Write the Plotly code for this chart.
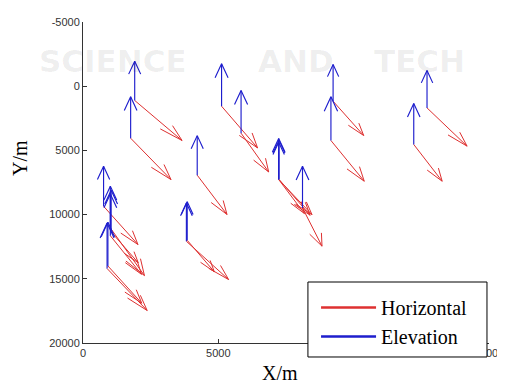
import plotly.graph_objects as go

# ---- data (metres) ----
# base point of every station (start of both vectors)
base_x = [1910, 1760, 5120, 5840, 4220, 760, 1010, 1040, 1010, 890, 920,
          3820, 3850, 7230, 7230, 7240, 8110, 9240, 9160, 12710, 12220]
base_y = [1110, 4050, 1560, 3660, 6930, 9350, 11040, 11350, 11650, 14200, 14000,
          12080, 12000, 7270, 7270, 7250, 9480, 1170, 4230, 1690, 4540]
# horizontal displacement vector (red)
horiz_u = [1750, 1490, 1330, 1020, 1100, 1270, 1260, 1000, 1150, 1480, 1250,
           1560, 1000, 1230, 950, 1150, 720, 1130, 1230, 1480, 1050]
horiz_v = [3120, 3220, 3250, 3020, 3060, 2980, 3710, 2400, 3000, 3270, 2900,
           2980, 2450, 2730, 2650, 2800, 2980, 2670, 3170, 2980, 2860]
# elevation vector (blue), drawn upward
elev_v = [-3060, -3230, -3310, -3330, -3080, -3120, -3250, -3250, -3250, -3550, -3400,
          -2980, -3000, -3200, -2900, -3050, -3250, -2860, -3410, -2910, -3190]
elev_u = [0] * len(elev_v)

x_ticks = [0, 5000, 10000, 15000]
y_ticks = [-5000, 0, 5000, 10000, 15000, 20000]

ALPHA, BETA = 0.33, 0.22  # MATLAB-like quiver head


def quiver_xy(xs, ys, us, vs):
    px, py = [], []
    for x, y, u, v in zip(xs, ys, us, vs):
        tx, ty = x + u, y + v
        b1x, b1y = tx - ALPHA * (u + BETA * v), ty - ALPHA * (v - BETA * u)
        b2x, b2y = tx - ALPHA * (u - BETA * v), ty - ALPHA * (v + BETA * u)
        px += [x, tx, None, b1x, tx, b2x, None]
        py += [y, ty, None, b1y, ty, b2y, None]
    return px, py


RED = "rgb(222,48,48)"
BLUE = "rgb(30,30,205)"

hx, hy = quiver_xy(base_x, base_y, horiz_u, horiz_v)
ex, ey = quiver_xy(base_x, base_y, elev_u, elev_v)

fig = go.Figure()
fig.add_trace(go.Scatter(x=hx, y=hy, mode="lines", line=dict(color=RED, width=1),
                         name="Horizontal", legendgroup="h", showlegend=False,
                         hoverinfo="skip"))
fig.add_trace(go.Scatter(x=ex, y=ey, mode="lines", line=dict(color=BLUE, width=1.15),
                         name="Elevation", legendgroup="e", showlegend=False,
                         hoverinfo="skip"))
# legend entries
fig.add_trace(go.Scatter(x=[None], y=[None], mode="lines", line=dict(color=RED, width=2.5),
                         name="Horizontal", legendgroup="h"))
fig.add_trace(go.Scatter(x=[None], y=[None], mode="lines", line=dict(color=BLUE, width=2.5),
                         name="Elevation", legendgroup="e"))

axis_common = dict(showline=True, linecolor="#333333", linewidth=1, ticks="inside",
                   ticklen=4, tickcolor="#333333", showgrid=False, zeroline=False,
                   automargin=False,
                   tickfont=dict(family="Liberation Sans, Arial", size=11, color="#333333"))

# the page body adds an 8px offset, so the figure is 8px smaller on each axis
fig.update_layout(
    width=497, height=375, autosize=False,
    margin=dict(l=75, r=16, t=14, b=40, autoexpand=False),
    paper_bgcolor="white", plot_bgcolor="white",
    xaxis=dict(range=[0, 15000], tickvals=x_ticks, ticktext=[str(v) for v in x_ticks],
               **axis_common),
    yaxis=dict(range=[20000, -5000], tickvals=y_ticks, ticktext=[str(v) for v in y_ticks],
               **axis_common),
    legend=dict(x=0.574, y=0.171, xanchor="left", yanchor="top",
                bgcolor="rgba(0,0,0,0)", borderwidth=0,
                font=dict(family="Liberation Serif, Times New Roman", size=20, color="black"),
                itemwidth=55, tracegroupgap=0),
    showlegend=True,
    # legend frame (white box that hides the axis behind it)
    shapes=[dict(type="rect", xref="paper", yref="paper", x0=0.554, x1=0.995,
                 y0=-0.0436, y1=0.19, line=dict(color="black", width=1),
                 fillcolor="white", layer="above")],
)

annotations = [
    dict(text="Y/m", x=-0.154, y=0.578, xref="paper", yref="paper", showarrow=False,
         xanchor="center", yanchor="middle", textangle=-90,
         font=dict(family="Liberation Serif, Times New Roman", size=20, color="black")),
    dict(text="X/m", x=0.486, y=-0.092, xref="paper", yref="paper", showarrow=False,
         xanchor="center", yanchor="middle",
         font=dict(family="Liberation Serif, Times New Roman", size=20, color="black")),
]
for word, wx in [("SCIENCE", 0.074), ("AND", 0.525), ("TECH", 0.83)]:
    annotations.append(dict(text=word, x=wx, y=0.878, xref="paper", yref="paper",
                            showarrow=False, xanchor="center", yanchor="middle",
                            font=dict(family="DejaVu Sans", size=31, color="rgba(0,0,0,0.07)",
                                      weight="bold")))
fig.update_layout(annotations=annotations)

fig.write_html("out.html")
